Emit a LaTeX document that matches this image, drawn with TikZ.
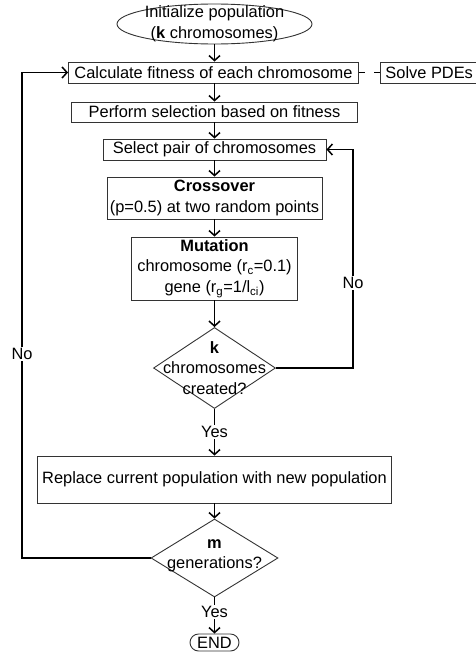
\documentclass[tikz,border=0pt]{standalone}
\usepackage{fontspec}
\setmainfont{Liberation Sans}
\usetikzlibrary{arrows.meta,shapes.geometric}
\begin{document}
\begin{tikzpicture}[x=1pt,y=-1pt,
  font=\fontsize{16.4}{20.5}\selectfont,
  box/.style={draw=black!80, line width=0.9pt, inner sep=0pt, align=center},
  conn/.style={line width=1.5pt, -{Straight Barb[length=5pt,width=11pt]}},
  plain/.style={line width=1.5pt},
  lbl/.style={fill=white, inner sep=1.5pt}]
\useasboundingbox (0,0) rectangle (475,653);
% nodes
\node[box, ellipse, minimum width=195pt, minimum height=40pt] (init) at (214.5,24) {};
\node[align=center] (inittext) at (init) {Initialize population\\(\textbf{k} chromosomes)};
\node[box, minimum width=290pt, minimum height=21pt] (calc) at (213.5,72.5) {Calculate fitness of each chromosome};
\node[box, anchor=west, minimum height=21pt, inner xsep=5pt] (solve) at (380,72.5) {Solve PDEs};
\node[box, minimum width=286pt, minimum height=20pt] (perform) at (214.5,112) {Perform selection based on fitness};
\node[box, minimum width=223pt, minimum height=21pt] (select) at (214.5,149.5) {Select pair of chromosomes};
\node[box, minimum width=215pt, minimum height=42pt] (cross) at (214.5,198) {\textbf{Crossover}\\(p=0.5) at two random points};
\node[box, minimum width=166pt, minimum height=63pt] (mut) at (214.5,268.5) {\textbf{Mutation}\\chromosome (r\textsubscript{c}=0.1)\\gene (r\textsubscript{g}=1/l\textsubscript{ci})};
\node[box, diamond, minimum width=122pt, minimum height=81pt] (k) at (214.5,368) {};
\node[align=center, inner sep=0pt] (ktext) at (214.5,368) {\textbf{k}\\chromosomes\\created?};
\node[box, minimum width=354pt, minimum height=47pt] (replace) at (214.5,479.5) {Replace current population with new population};
\node[box, diamond, minimum width=127pt, minimum height=78pt] (m) at (214.5,558) {};
\node[align=center, inner sep=0pt] (mtext) at (214.5,556) {\textbf{m}\\generations?};
\node[box, rounded corners=8.5pt, minimum width=49pt, minimum height=17pt] (end) at (214.5,642.5) {END};
% helper coordinates
\coordinate (l1) at (22,558);
\coordinate (l2) at (22,72.5);
\coordinate (r1) at (353,368);
\coordinate (r2) at (353,149.5);
% connectors
\draw[conn] (init.south) -- (calc.north -| init.south);
\draw[conn] (calc.south -| perform.north) -- (perform.north);
\draw[conn] (perform) -- (select);
\draw[conn] (select) -- (cross);
\draw[conn] (cross) -- (mut);
\draw[conn] (mut) -- (k);
\draw[conn] (k) -- node[lbl]{Yes} (replace);
\draw[conn] (replace) -- (m);
\draw[conn] (m) -- node[lbl, pos=0.4]{Yes} (end);
\draw[conn] (k.east) -- (r1) -- node[lbl, pos=0.39]{No} (r2) -- (select.east);
\draw[conn] (m.west) -- (l1) -- node[lbl, pos=0.42]{No} (l2) -- (calc.west);
\draw[plain, dash pattern=on 6pt off 9.5pt] (calc.east) -- (solve.west);
\end{tikzpicture}
\end{document}
